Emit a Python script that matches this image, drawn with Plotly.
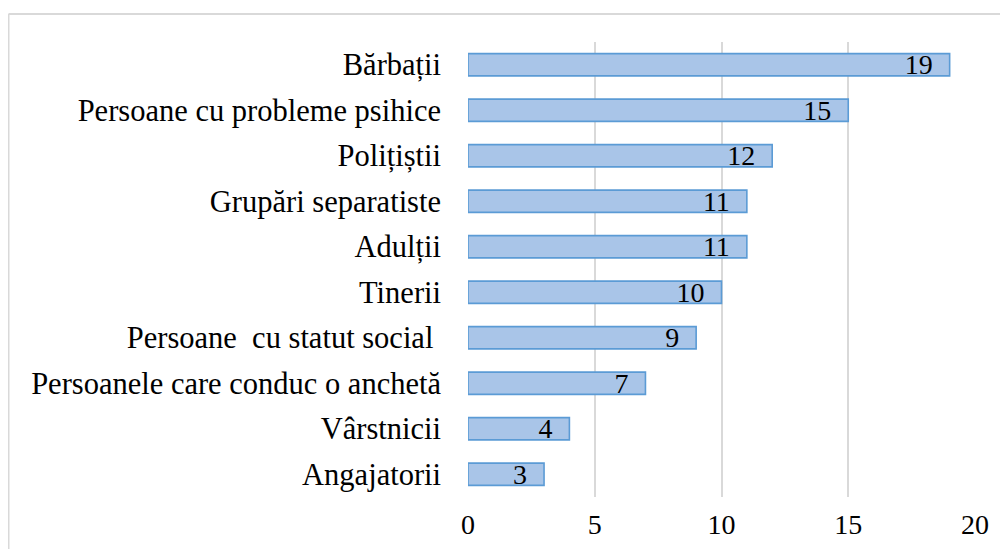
import plotly.graph_objects as go

categories = ["Bărbații", "Persoane cu probleme psihice", "Polițiștii", "Grupări separatiste",
              "Adulții", "Tinerii", "Persoane  cu statut social ", "Persoanele care conduc o anchetă",
              "Vârstnicii", "Angajatorii"]
values = [19, 15, 12, 11, 11, 10, 9, 7, 4, 3]
x_ticks = [0, 5, 10, 15, 20]

FONT = "Liberation Serif"
PAD = "\u00a0\u00a0"

fig = go.Figure(go.Bar(
    y=categories, x=values, orientation="h",
    marker=dict(color="#a9c5e8", line=dict(color="#5b9bd5", width=1.6)),
    width=0.49,
    text=[str(v) + PAD for v in values], textposition="inside", insidetextanchor="end",
    textangle=0, constraintext="none",
    textfont=dict(family=FONT, size=28, color="black"),
))

fig.update_layout(
    width=1008, height=549,
    margin=dict(l=460, r=41, t=34, b=60),
    paper_bgcolor="white", plot_bgcolor="white",
    showlegend=False,
    font=dict(family=FONT, color="black"),
    xaxis=dict(range=[0, 20], tickvals=x_ticks, showgrid=True, gridcolor="#d9d9d9", gridwidth=1.5,
               zeroline=False, showline=False, tickfont=dict(size=28, family=FONT),
               ticks="", ticklabelstandoff=8),
    yaxis=dict(autorange="reversed", showgrid=False, zeroline=False, showline=False,
               tickfont=dict(size=30.5, family=FONT), ticks="", ticklabelstandoff=26),
    shapes=[
        dict(type="line", xref="paper", yref="paper", x0=-0.9063, x1=1.2, y0=1.0615, y1=1.0615,
             line=dict(color="#d9d9d9", width=2)),
        dict(type="line", xref="paper", yref="paper", x0=-0.9063, x1=-0.9063, y0=1.0615, y1=-0.2,
             line=dict(color="#d9d9d9", width=2)),
    ],
)

fig.write_html("out.html")
